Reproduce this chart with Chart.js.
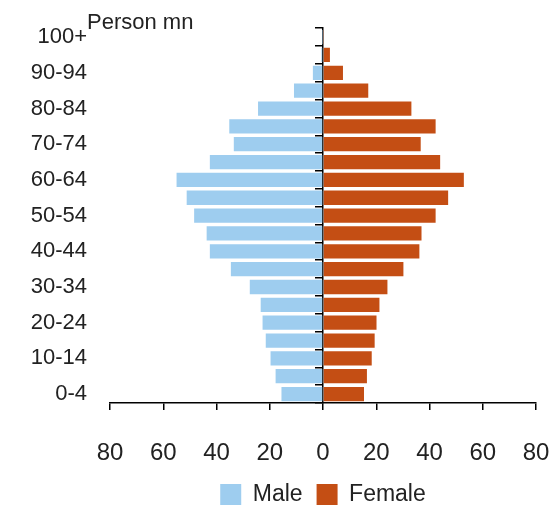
<!DOCTYPE html>
<html>
<head>
<meta charset="utf-8">
<script src="https://cdn.jsdelivr.net/npm/chart.js@4.4.1/dist/chart.umd.min.js"></script>
<style>
  html, body { margin: 0; padding: 0; background: #fff; }
  #wrap { width: 556px; height: 509px; }
</style>
</head>
<body>
<div id="wrap"><canvas id="pyramid"></canvas></div>
<script>
// age groups, bottom to top
var ageGroups = ['0-4', '5-9', '10-14', '15-19', '20-24', '25-29', '30-34', '35-39',
  '40-44', '45-49', '50-54', '55-59', '60-64', '65-69', '70-74', '75-79',
  '80-84', '85-89', '90-94', '95-99', '100+'];
// person mn
var maleValues = [15.6, 17.8, 19.7, 21.5, 22.7, 23.4, 27.5, 34.6, 42.5, 43.7, 48.4,
  51.2, 55.0, 42.5, 33.5, 35.2, 24.4, 10.9, 3.8, 0.6, 0.1];
var femaleValues = [15.4, 16.5, 18.3, 19.4, 20.1, 21.2, 24.2, 30.2, 36.2, 37.0, 42.3,
  47.0, 52.9, 44.0, 36.7, 42.3, 33.2, 17.0, 7.5, 2.6, 0.2];
var xTicks = [-80, -60, -40, -20, 0, 20, 40, 60, 80];

var font = 'Liberation Sans, Arial, sans-serif';

// "Person mn" unit label next to the top age label
var unitLabel = {
  id: 'unitLabel',
  afterDraw: function(chart) {
    var ctx = chart.ctx;
    ctx.save();
    ctx.font = '22px ' + font;
    ctx.fillStyle = '#222';
    ctx.textBaseline = 'alphabetic';
    ctx.fillText('Person mn', 87, 29);
    ctx.restore();
  }
};

new Chart(document.getElementById('pyramid'), {
  type: 'bar',
  data: {
    labels: ageGroups,
    datasets: [{
      label: 'Male',
      data: maleValues.map(function(v) { return -v; }),
      backgroundColor: '#9ecdef',
      borderWidth: 0
    }, {
      label: 'Female',
      data: femaleValues,
      backgroundColor: '#c44e14',
      borderWidth: 0
    }]
  },
  options: {
    indexAxis: 'y',
    responsive: true,
    maintainAspectRatio: false,
    animation: false,
    barPercentage: 0.8,
    categoryPercentage: 1.0,
    layout: { padding: { top: 25, left: 20, right: 20, bottom: -7 } },
    scales: {
      x: {
        type: 'linear',
        min: -80,
        max: 80,
        stacked: true,
        afterBuildTicks: function(scale) {
          scale.ticks = xTicks.map(function(v) { return { value: v }; });
        },
        afterFit: function(scale) {
          // big label gap should not widen the side padding
          scale.height = 66;
          scale.paddingLeft = 12;
          scale.paddingRight = 12;
        },
        grid: { drawOnChartArea: false, color: '#000', lineWidth: 1.5, tickLength: 7 },
        border: { color: '#000', width: 1.5 },
        ticks: {
          callback: function(v) { return Math.abs(v); },
          font: { size: 24, family: font },
          color: '#222',
          padding: 29
        }
      },
      y: {
        type: 'category',
        position: 'left',
        reverse: true,
        stacked: true,
        afterFit: function(scale) { scale.width = 90; },
        grid: { display: false },
        border: { display: false },
        ticks: {
          autoSkip: false,
          callback: function(v, i) { return i % 2 === 0 ? this.getLabelForValue(v) : ''; },
          font: { size: 22, family: font },
          color: '#222',
          padding: 15
        }
      },
      y2: {
        type: 'category',
        axis: 'y',
        position: { x: 0 },
        reverse: true,
        offset: true,
        afterFit: function(scale) { scale.width = 0; },
        grid: { drawOnChartArea: false, color: '#000', lineWidth: 1.5, tickLength: 7, offset: true },
        border: { color: '#000', width: 1.5 },
        ticks: { display: false }
      }
    },
    plugins: {
      legend: {
        position: 'bottom',
        fullSize: false,
        labels: {
          boxWidth: 21,
          boxHeight: 21,
          padding: 14,
          font: { size: 23, family: font },
          color: '#222'
        }
      },
      tooltip: { enabled: false }
    }
  },
  plugins: [unitLabel]
});
</script>
</body>
</html>
